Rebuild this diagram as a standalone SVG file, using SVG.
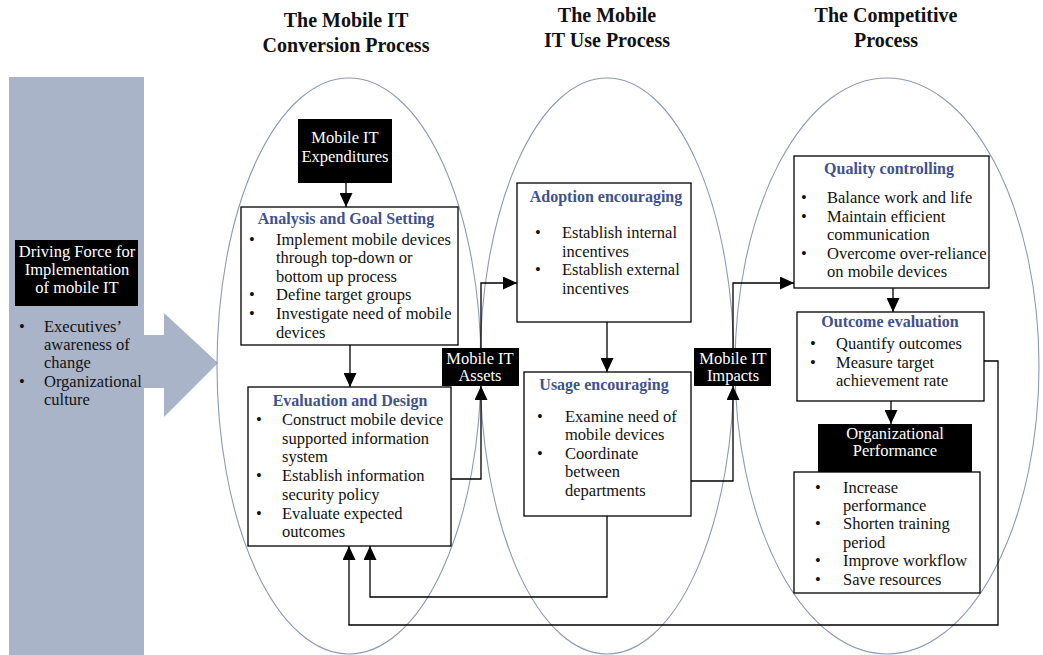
<svg xmlns="http://www.w3.org/2000/svg" width="1043" height="655" viewBox="0 0 1043 655">
<style>
text{font-family:"Liberation Serif","Times New Roman",serif;}
.hd{font-size:20px;font-weight:bold;fill:#111;text-anchor:middle;}
.t{font-size:16.5px;fill:#111;}
.w{font-size:16.5px;fill:#fff;text-anchor:middle;}
.ti{font-size:16px;font-weight:bold;fill:#3f5190;text-anchor:middle;}
.box{fill:#fff;stroke:#000;stroke-width:1.3;}
.blk{fill:#000;}
.ell{fill:none;stroke:#8d99b2;stroke-width:1.1;}
.con{fill:none;stroke:#000;stroke-width:1.3;marker-end:url(#ah);}
</style>
<defs>
<marker id="ah" markerUnits="userSpaceOnUse" markerWidth="14" markerHeight="13" refX="14" refY="6.5" orient="auto">
<path d="M0,0 L14,6.5 L0,13 z" fill="#000"/>
</marker>
</defs>
<rect width="1043" height="655" fill="#fff"/>

<g id="headers">
<text class="hd" x="346" y="27">The Mobile IT</text>
<text class="hd" x="346" y="52">Conversion Process</text>
<text class="hd" x="607" y="22">The Mobile</text>
<text class="hd" x="607" y="47">IT Use Process</text>
<text class="hd" x="886" y="22">The Competitive</text>
<text class="hd" x="886" y="47">Process</text>
</g>

<g id="driving-force">
<rect x="9" y="77" width="135" height="578" fill="#aab4c8"/>
<polygon points="143,335 164,335 164,313 218,363 164,417 164,388 143,388" fill="#aab4c8"/>
<rect x="15" y="240" width="123" height="66" class="blk"/>
<text class="w" x="77" y="257">Driving Force for</text>
<text class="w" x="77" y="275">Implementation</text>
<text class="w" x="77" y="293">of mobile IT</text>
<text class="t" x="19" y="332">•</text><text class="t" x="44" y="332">Executives’</text>
<text class="t" x="44" y="350">awareness of</text>
<text class="t" x="44" y="368">change</text>
<text class="t" x="19" y="387">•</text><text class="t" x="44" y="387">Organizational</text>
<text class="t" x="44" y="405">culture</text>
</g>

<g id="ellipses">
<ellipse class="ell" cx="349" cy="366" rx="132" ry="288"/>
<ellipse class="ell" cx="607" cy="366" rx="127" ry="288"/>
<ellipse class="ell" cx="887" cy="366" rx="152" ry="288"/>
</g>

<g id="connectors">
<path class="con" d="M346,183 V207"/>
<path class="con" d="M350,345 V387"/>
<path class="con" d="M451,479 H481 V386"/>
<path class="con" d="M481,348 V283 H517"/>
<path class="con" d="M607,322 V372"/>
<path class="con" d="M691,481 H733 V386"/>
<path class="con" d="M733,348 V283 H794"/>
<path class="con" d="M893,288 V312"/>
<path class="con" d="M891,401 V424"/>
<path class="con" d="M984,361 H998 V625 H349 V546"/>
<path class="con" d="M607,516 V597 H370 V546"/>
</g>

<g id="expenditures">
<rect x="298" y="119" width="94" height="64" class="blk"/>
<text class="w" x="345" y="143">Mobile IT</text>
<text class="w" x="345" y="162">Expenditures</text>
</g>

<g id="analysis">
<rect x="241" y="207" width="217" height="138" class="box"/>
<text class="ti" x="346" y="224">Analysis and Goal Setting</text>
<text class="t" x="249" y="245">•</text><text class="t" x="276" y="245">Implement mobile devices</text>
<text class="t" x="276" y="263">through top-down or</text>
<text class="t" x="276" y="282">bottom up process</text>
<text class="t" x="249" y="300">•</text><text class="t" x="276" y="300">Define target groups</text>
<text class="t" x="249" y="319">•</text><text class="t" x="276" y="319">Investigate need of mobile</text>
<text class="t" x="276" y="338">devices</text>
</g>

<g id="evaluation">
<rect x="248" y="387" width="203" height="159" class="box"/>
<text class="ti" x="350" y="406">Evaluation and Design</text>
<text class="t" x="256" y="425">•</text><text class="t" x="282" y="425">Construct mobile device</text>
<text class="t" x="282" y="444">supported information</text>
<text class="t" x="282" y="462">system</text>
<text class="t" x="256" y="481">•</text><text class="t" x="282" y="481">Establish information</text>
<text class="t" x="282" y="500">security policy</text>
<text class="t" x="256" y="519">•</text><text class="t" x="282" y="519">Evaluate expected</text>
<text class="t" x="282" y="537">outcomes</text>
</g>

<g id="assets">
<rect x="442" y="348" width="77" height="38" class="blk"/>
<text class="w" x="480" y="364">Mobile IT</text>
<text class="w" x="480" y="381">Assets</text>
</g>

<g id="adoption">
<rect x="517" y="183" width="174" height="139" class="box"/>
<text class="ti" x="606" y="202">Adoption encouraging</text>
<text class="t" x="535" y="238">•</text><text class="t" x="562" y="238">Establish internal</text>
<text class="t" x="562" y="257">incentives</text>
<text class="t" x="535" y="275">•</text><text class="t" x="562" y="275">Establish external</text>
<text class="t" x="562" y="294">incentives</text>
</g>

<g id="usage">
<rect x="524" y="372" width="167" height="144" class="box"/>
<text class="ti" x="604" y="390">Usage encouraging</text>
<text class="t" x="537" y="422">•</text><text class="t" x="565" y="422">Examine need of</text>
<text class="t" x="565" y="440">mobile devices</text>
<text class="t" x="537" y="459">•</text><text class="t" x="565" y="459">Coordinate</text>
<text class="t" x="565" y="477">between</text>
<text class="t" x="565" y="496">departments</text>
</g>

<g id="impacts">
<rect x="694" y="348" width="77" height="38" class="blk"/>
<text class="w" x="733" y="364">Mobile IT</text>
<text class="w" x="733" y="381">Impacts</text>
</g>

<g id="quality">
<rect x="794" y="156" width="195" height="132" class="box"/>
<text class="ti" x="889" y="174">Quality controlling</text>
<text class="t" x="801" y="203">•</text><text class="t" x="827" y="203">Balance work and life</text>
<text class="t" x="801" y="222">•</text><text class="t" x="827" y="222">Maintain efficient</text>
<text class="t" x="827" y="240">communication</text>
<text class="t" x="801" y="259">•</text><text class="t" x="827" y="259">Overcome over-reliance</text>
<text class="t" x="827" y="277">on mobile devices</text>
</g>

<g id="outcome">
<rect x="797" y="312" width="187" height="89" class="box"/>
<text class="ti" x="890" y="327">Outcome evaluation</text>
<text class="t" x="810" y="349">•</text><text class="t" x="836" y="349">Quantify outcomes</text>
<text class="t" x="810" y="368">•</text><text class="t" x="836" y="368">Measure target</text>
<text class="t" x="836" y="386">achievement rate</text>
</g>

<g id="performance">
<rect x="818" y="424" width="154" height="48" class="blk"/>
<text class="w" x="895" y="439">Organizational</text>
<text class="w" x="895" y="456">Performance</text>
<rect x="794" y="472" width="186" height="121" class="box"/>
<text class="t" x="815" y="493">•</text><text class="t" x="843" y="493">Increase</text>
<text class="t" x="843" y="511">performance</text>
<text class="t" x="815" y="529">•</text><text class="t" x="843" y="529">Shorten training</text>
<text class="t" x="843" y="548">period</text>
<text class="t" x="815" y="566">•</text><text class="t" x="843" y="566">Improve workflow</text>
<text class="t" x="815" y="585">•</text><text class="t" x="843" y="585">Save resources</text>
</g>
</svg>
